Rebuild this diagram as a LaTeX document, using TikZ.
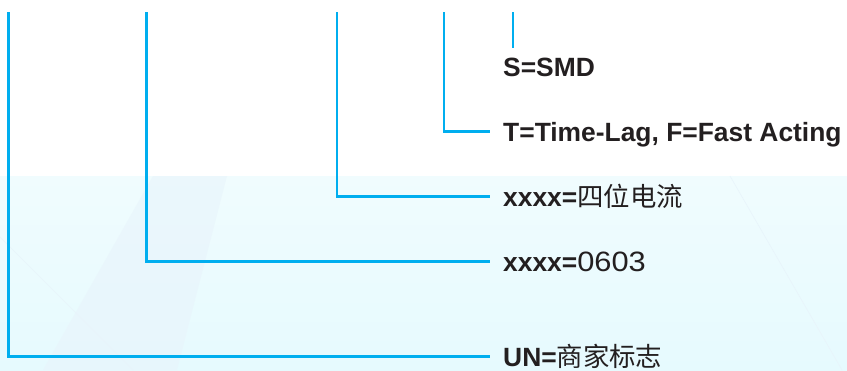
\documentclass[tikz,border=0pt]{standalone}
\usepackage{fontspec}
\setmainfont{Liberation Sans}
\newfontfamily\cjk{Noto Sans CJK SC}
\newfontfamily\digitfont[FakeStretch=1.1]{Liberation Sans}
\definecolor{leadcol}{RGB}{0,174,239}
\definecolor{txtcol}{RGB}{35,31,32}
\definecolor{bgtop}{RGB}{240,252,254}
\definecolor{bgbot}{RGB}{230,250,254}
\definecolor{bandcol}{RGB}{232,244,251}
\begin{document}
\begin{tikzpicture}[x=1pt,y=-1pt,
  lead/.style={draw=leadcol, line width=2.7pt},
  lbl/.style={anchor=base west, inner sep=0pt, text=txtcol,
    font=\fontsize{26.4}{30}\selectfont\bfseries}]
\useasboundingbox (0,0) rectangle (847,370);
% background
\fill[white] (0,0) rectangle (847,176);
\shade[top color=bgtop, bottom color=bgbot] (0,176) rectangle (847,370);
\fill[bandcol, opacity=0.6] (153,176) -- (227,176) -- (177,370) -- (43,370) -- cycle;
\draw[bandcol, line width=0.6pt] (0,237) -- (133,370);
\draw[bandcol, line width=0.6pt] (730,176) -- (842,370);
% connector ends
\coordinate (t1) at (8.3,12);
\coordinate (t2) at (146.7,12);
\coordinate (t3) at (337,12);
\coordinate (t4) at (444,12);
\coordinate (t5) at (513,12);
\coordinate (e1) at (490,356.5);
\coordinate (e2) at (490,261.5);
\coordinate (e3) at (490,196.7);
\coordinate (e4) at (490,131.7);
\coordinate (e5) at (513,48);
% labels
\node[lbl] (s) at (503,76.7) {S=SMD};
\node[lbl] (t) at (503,141.2) {T=Time-Lag, F=Fast Acting};
\node[lbl] (cur) at (503,206.2) {xxxx={\cjk\mdseries 四位电流}};
\node[lbl] (size) at (503,271) {xxxx={\digitfont\mdseries\fontsize{28}{30}\selectfont 0603}};
\node[lbl] (un) at (503,366) {UN={\cjk\mdseries 商家标志}};
% connectors
\draw[lead] (t1) |- (e1);
\draw[lead] (t2) |- (e2);
\draw[lead] (t3) |- (e3);
\draw[lead] (t4) |- (e4);
\draw[lead] (t5) -- (e5);
\end{tikzpicture}
\end{document}
